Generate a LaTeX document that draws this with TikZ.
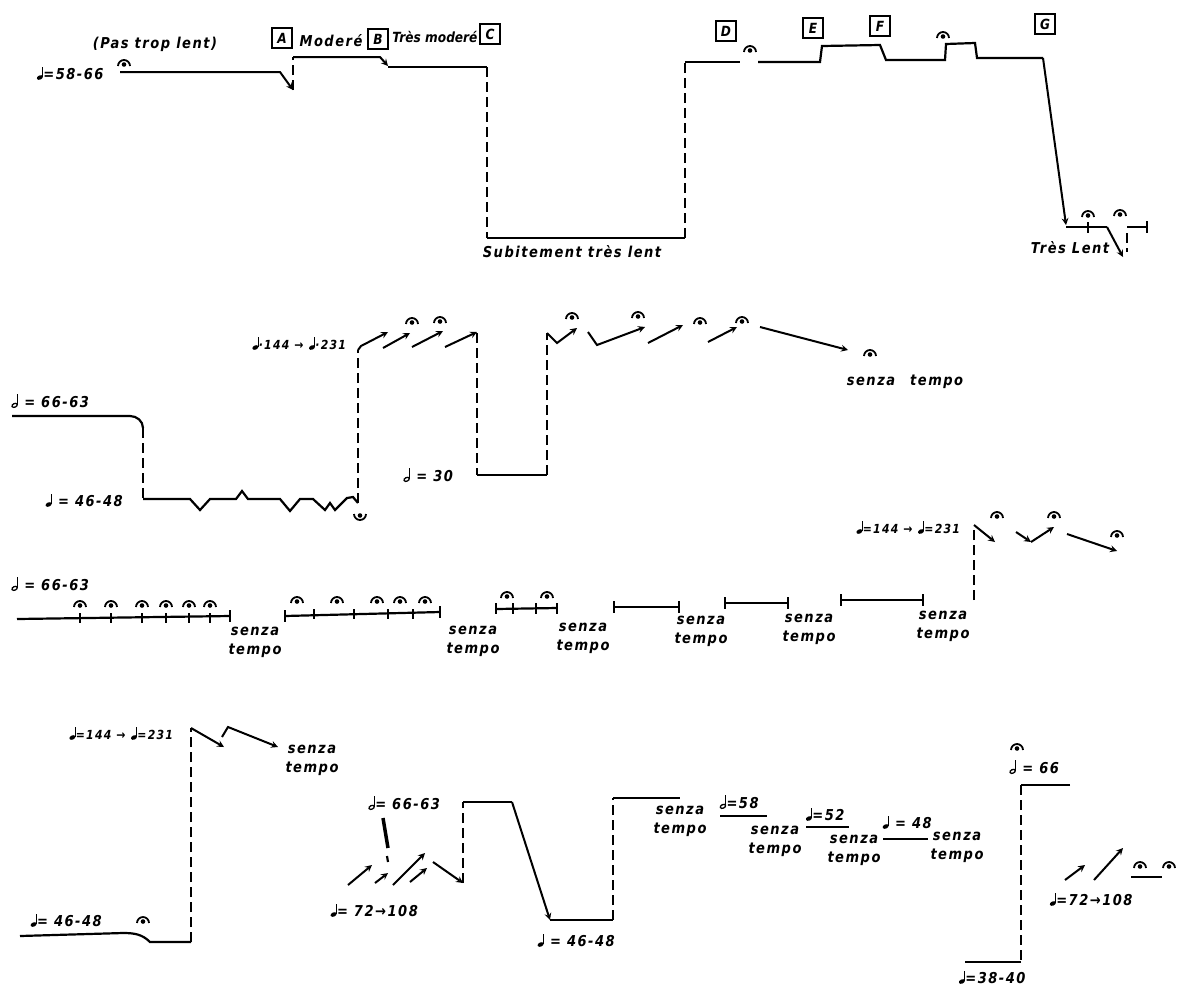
\documentclass[tikz,border=0pt]{standalone}
\usepackage{fontspec}
\newfontfamily\hand{DejaVu Sans}[FakeStretch=0.87, LetterSpace=10]
\usetikzlibrary{arrows}

% quarter and half note signs
\newcommand{\qn}{\tikz[baseline=0pt,x=1pt,y=1pt]{\fill[rotate around={25:(2.8,2)}] (2.8,2) ellipse (3.2 and 2.1); \draw[line width=1.3pt] (5.6,2.3) -- (5.6,13);}}
\newcommand{\hn}{\tikz[baseline=0pt,x=1pt,y=1pt]{\draw[line width=1.3pt,rotate around={25:(2.8,2)}] (2.8,2) ellipse (2.8 and 1.8); \draw[line width=1.3pt] (5.6,2.3) -- (5.6,13);}}

\begin{document}
\begin{tikzpicture}[
    x=1pt, y=-1pt,
    tline/.style={line width=2.2pt},
    dline/.style={line width=2.2pt, dash pattern=on 10pt off 5pt},
    arr/.style={->, >=stealth, line width=2pt},
    tick/.style={line width=1.6pt},
    lbl/.style={font=\hand\bfseries\itshape\fontsize{15}{19}\selectfont, inner sep=1pt, align=center},
    lblsm/.style={font=\hand\bfseries\itshape\fontsize{12.5}{14}\selectfont, inner sep=1pt},
    boxl/.style={draw, line width=1.6pt, minimum size=20pt, inner sep=1pt, font=\hand\bfseries\itshape\fontsize{14}{15}\selectfont},
    ferm/.pic={\draw[line width=1.8pt] (-6,2) arc (180:360:6); \fill (0,0.5) circle (2.3);}
]
\useasboundingbox (0,0) rectangle (1177,986);
\fill[white] (0,0) rectangle (1177,986);

% Row 1
\node[lbl] (t58) at (70,73) {\qn{}=58-66};
\node[lbl] (pastrop) at (155,44) {(Pas trop lent)};
\pic at (124,64) {ferm};
\node[boxl] (bA) at (282,38) {A};
\node[lbl] (moder) at (331,41) {Moderé};
\node[boxl] (bB) at (378,39) {B};
\node[lbl, font=\hand\addfontfeatures{LetterSpace=0}\bfseries\itshape\fontsize{14}{15}\selectfont] (tmoder) at (435,37) {Très moderé};
\node[boxl] (bC) at (490,34) {C};
\node[boxl] (bD) at (726,31) {D};
\node[boxl] (bE) at (813,28) {E};
\node[boxl] (bF) at (880,26) {F};
\node[boxl] (bG) at (1045,24) {G};
\pic at (750,50) {ferm};
\pic at (943,36) {ferm};

\draw[arr] (120,72) -- (280,72) -- (293,90);
\draw[dline] (293,90) -- (293,57);
\draw[arr] (293,57) -- (380,57) -- (388,66);
\draw[tline] (388,67) -- (487,67);
\draw[dline] (487,67) -- (487,238);
\draw[tline] (487,238) -- (685,238);
\draw[dline] (685,238) -- (685,62);
\draw[tline] (685,62) -- (740,62);
\draw[tline] (758,62) -- (820,62) -- (822,46) -- (880,45) -- (886,60) -- (945,60)
    -- (946,44) -- (975,43) -- (977,58) -- (1043,58);
\draw[arr] (1043,58) -- (1066,225);
\draw[tline] (1066,227) -- (1107,227);
\draw[arr] (1107,227) -- (1123,257);
\draw[dline] (1127,233) -- (1127,252);
\draw[tline] (1127,227) -- (1147,227);
\draw[tick] (1147,221) -- (1147,233);
\draw[tick] (1088,222) -- (1088,233);
\pic at (1088,215) {ferm};
\pic at (1120,214) {ferm};
\node[lbl] (subit) at (572,252) {Subitement très lent};
\node[lbl] (treslent) at (1070,248) {Très Lent};

% Row 2
\node[lbl] (r2a) at (50,401) {\hn{} = 66-63};
\draw[tline] (12,416) -- (130,416) to[out=0,in=90] (143,428);
\draw[dline] (143,428) -- (143,499);
\draw[tline] (143,499) -- (190,499) -- (200,510) -- (210,499) -- (236,499) -- (242,491)
    -- (248,499) -- (280,499) -- (290,511) -- (300,499) -- (313,499) -- (325,510)
    -- (330,503) -- (335,510) -- (347,498) -- (353,497) -- (358,503);
\draw[dline] (358,503) -- (358,350);
\pic[rotate=180] at (360,516) {ferm};
\node[lbl] (r2b) at (84,500) {\qn{} = 46-48};
\node[lblsm] (r2c) at (299,343) {\qn{}·144 → \qn{}·231};
\draw[arr] (358,350) -- (361,346) -- (388,332);
\draw[arr] (383,348) -- (410,333);
\draw[arr] (412,347) -- (443,331);
\draw[arr] (445,347) -- (477,332);
\pic at (412,322) {ferm};
\pic at (440,321) {ferm};
\draw[dline] (477,333) -- (477,475);
\draw[tline] (477,475) -- (547,475);
\draw[dline] (547,475) -- (547,333);
\node[lbl] (r2d) at (428,475) {\hn{} = 30};
\draw[arr] (547,333) -- (557,343) -- (577,328);
\draw[arr] (588,332) -- (597,345) -- (645,327);
\draw[arr] (648,343) -- (683,325);
\draw[arr] (708,342) -- (737,327);
\draw[arr] (760,327) -- (848,350);
\foreach \fx/\fy in {572/317, 638/316, 700/322, 742/321, 870/354}
    \pic at (\fx,\fy) {ferm};
\node[lbl] (r2e) at (905,382) {senza\quad tempo};

% Row 3
\node[lbl] (r3a) at (50,584) {\hn{} = 66-63};
\draw[tline] (17,619) -- (230,616);
\draw[tick] (230,610) -- (230,622);
\foreach \tx in {80,111,142,166,189,210} {
    \draw[tick] (\tx,613) -- (\tx,623);
    \pic at (\tx,605) {ferm};
}
\node[lbl] (st1) at (255,642) {senza\\tempo};
\draw[tline] (285,616) -- (440,612);
\draw[tick] (285,610) -- (285,622);
\draw[tick] (440,606) -- (440,618);
\foreach \tx in {314,354,388,413}
    \draw[tick] (\tx,609) -- (\tx,619);
\foreach \fx in {297,337,377,400,425}
    \pic at (\fx,601) {ferm};
\node[lbl] (st2) at (473,641) {senza\\tempo};
\draw[tline] (496,609) -- (557,608);
\foreach \tx in {496,513,536,557}
    \draw[tick] (\tx,603) -- (\tx,614);
\pic at (507,596) {ferm};
\pic at (547,596) {ferm};
\node[lbl] (st3) at (583,638) {senza\\tempo};
\draw[tline] (614,607) -- (679,607);
\draw[tick] (614,601) -- (614,613);
\draw[tick] (679,601) -- (679,613);
\node[lbl] (st4) at (701,631) {senza\\tempo};
\draw[tline] (725,603) -- (788,603);
\draw[tick] (725,597) -- (725,609);
\draw[tick] (788,597) -- (788,609);
\node[lbl] (st5) at (809,629) {senza\\tempo};
\draw[tline] (841,600) -- (923,600);
\draw[tick] (841,594) -- (841,606);
\draw[tick] (923,594) -- (923,606);
\node[lbl] (st6) at (943,626) {senza\\tempo};
\draw[dline] (974,600) -- (974,527);
\node[lblsm] (r3b) at (908,527) {\qn{}=144 → \qn{}=231};
\draw[arr] (974,525) -- (995,542);
\draw[arr] (1016,532) -- (1031,542);
\draw[arr] (1031,542) -- (1054,527);
\draw[arr] (1067,534) -- (1117,551);
\pic at (997,516) {ferm};
\pic at (1054,516) {ferm};
\pic at (1117,535) {ferm};

% Row 4
\node[lblsm] (r4a) at (121,733) {\qn{}=144 → \qn{}=231};
\draw[dline] (191,942) -- (191,728);
\draw[arr] (191,728) -- (224,747);
\draw[arr] (222,737) -- (228,727) -- (278,747);
\node[lbl] (st7) at (312,760) {senza\\tempo};
\draw[tline] (20,936) -- (123,933) to[out=0,in=135] (150,942) -- (191,942);
\pic at (143,921) {ferm};
\node[lbl] (r4b) at (66,920) {\qn{}= 46-48};
\node[lbl] (r4c) at (404,803) {\hn{}= 66-63};
\draw[line width=3.5pt] (383,818) -- (388,848);
\draw[line width=2.2pt] (387,856) -- (388,862);
\draw[arr] (348,885) -- (372,865);
\draw[arr] (375,883) -- (388,873);
\draw[arr] (393,885) -- (425,853);
\draw[arr] (410,882) -- (427,868);
\draw[arr] (433,862) -- (463,883);
\node[lbl] (r4d) at (374,910) {\qn{}= 72→108};
\draw[dline] (463,883) -- (463,802);
\draw[tline] (463,802) -- (512,802);
\draw[arr] (512,802) -- (550,920);
\draw[tline] (550,920) -- (613,920);
\draw[dline] (613,920) -- (613,798);
\draw[tline] (613,798) -- (680,798);
\node[lbl] (r4e) at (576,940) {\qn{} = 46-48};
\node[lbl] (st8) at (680,821) {senza\\tempo};
\node[lbl] (r4f) at (739,802) {\hn{}=58};
\draw[tline] (720,816) -- (767,816);
\node[lbl] (st9) at (775,841) {senza\\tempo};
\node[lbl] (r4g) at (825,814) {\qn{}=52};
\draw[tline] (806,827) -- (849,827);
\node[lbl] (st10) at (854,850) {senza\\tempo};
\node[lbl] (r4h) at (907,822) {\qn{} = 48};
\draw[tline] (883,839) -- (928,839);
\node[lbl] (st11) at (957,847) {senza\\tempo};
\pic at (1017,748) {ferm};
\node[lbl] (r4i) at (1034,767) {\hn{} = 66};
\draw[tline] (1070,785) -- (1021,785);
\draw[dline] (1021,785) -- (1021,962);
\draw[tline] (1021,962) -- (965,962);
\node[lbl] (r4j) at (992,977) {\qn{}=38-40};
\draw[arr] (1065,880) -- (1085,865);
\draw[arr] (1094,880) -- (1123,848);
\pic at (1140,866) {ferm};
\pic at (1169,866) {ferm};
\draw[tline] (1131,877) -- (1162,877);
\node[lbl] (r4k) at (1091,899) {\qn{}=72→108};
\end{tikzpicture}
\end{document}
